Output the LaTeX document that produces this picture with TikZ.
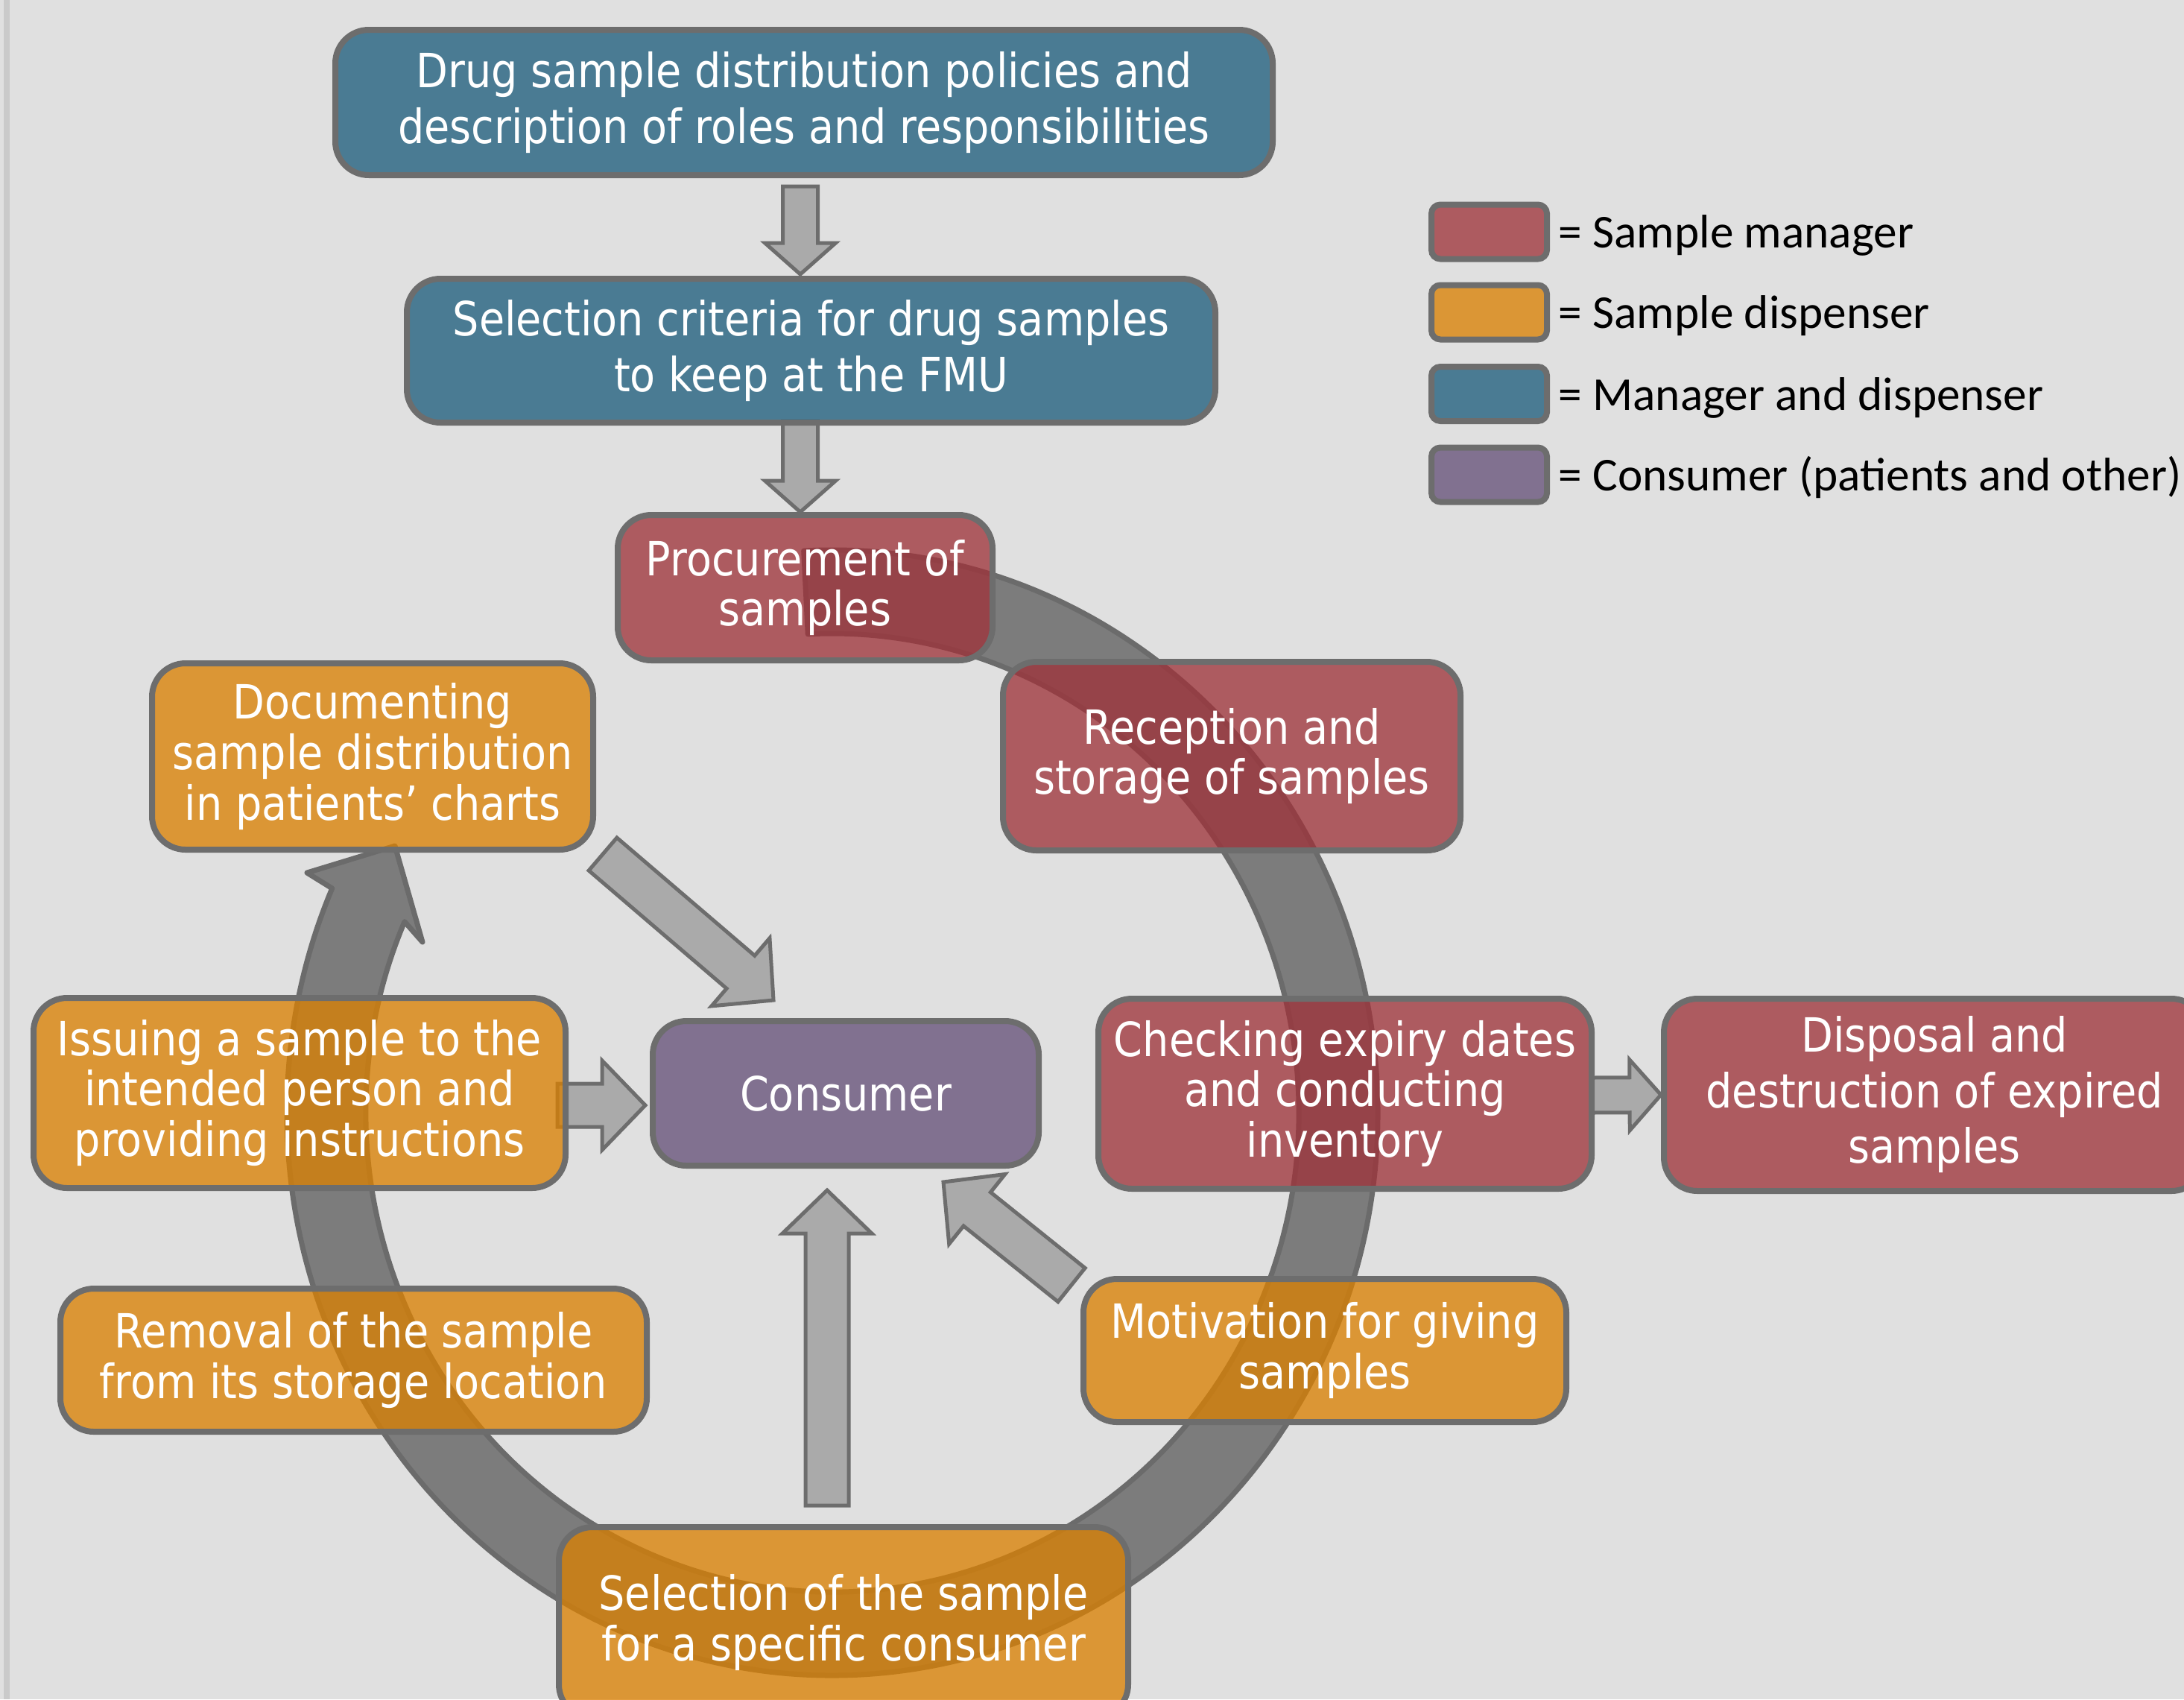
\documentclass[tikz,border=0pt]{standalone}
\usepackage{fontspec}
\usepackage{xcolor}
\usepackage{tikz}
\usetikzlibrary{calc,backgrounds}

\newfontfamily\boxfont[FakeStretch=0.88]{DejaVu Sans}
\newfontfamily\legfont{Carlito}

\definecolor{bggray}{RGB}{224,224,224}
\definecolor{leftline}{RGB}{202,202,202}
\definecolor{edgegray}{RGB}{109,109,109}
\definecolor{ringgray}{RGB}{124,124,124}
\definecolor{ringedge}{RGB}{107,107,107}
\definecolor{arrowgray}{RGB}{170,170,170}
\definecolor{mgrred}{RGB}{158,51,58}
\definecolor{dsporange}{RGB}{218,128,2}
\definecolor{bothblue}{RGB}{29,93,124}
\definecolor{conspurple}{RGB}{101,80,121}

% tail, tip, half shaft, half head, head length
\newcommand{\blockarrow}[5]{%
  \coordinate (ba-t) at (#1);
  \coordinate (ba-p) at (#2);
  \coordinate (ba-h) at ($(ba-p)!#5!(ba-t)$);
  \draw[fatarrow] ($(ba-t)!#3!90:(ba-p)$) -- ($(ba-h)!#3!-90:(ba-t)$) -- ($(ba-h)!#4!-90:(ba-t)$)
    -- (ba-p) -- ($(ba-h)!#4!90:(ba-t)$) -- ($(ba-h)!#3!90:(ba-t)$) -- ($(ba-t)!#3!-90:(ba-p)$) -- cycle;}

\begin{document}
\begin{tikzpicture}[
    stage/.style={draw=edgegray, line width=0.08cm, rounded corners=0.45cm,
      fill opacity=0.77, text opacity=1, text=white, align=center, inner sep=0pt,
      font=\boxfont\fontsize{18}{19.3}\selectfont},
    widelines/.style={font=\boxfont\fontsize{18}{21.2}\selectfont},
    key/.style={draw=edgegray, line width=0.08cm, rounded corners=0.12cm, fill opacity=0.77,
      minimum width=1.55cm, minimum height=0.73cm, inner sep=0pt},
    keytext/.style={anchor=base west, inner sep=0pt, font=\legfont\fontsize{18}{21.6}\selectfont},
    fatarrow/.style={draw=edgegray, fill=arrowgray, line width=0.05cm},
    ring/.style={draw=ringedge, fill=ringgray, line width=0.07cm, line join=round}]
  \useasboundingbox (0,0) rectangle (29.31,-22.80);
  \clip (0,0) rectangle (29.31,-22.80);

  % stages
  \node[stage, widelines, fill=bothblue, minimum width=12.58cm, minimum height=1.95cm] (policy) at (10.79,-1.375)
    {Drug sample distribution policies and\\description of roles and responsibilities};
  \node[stage, widelines, fill=bothblue, minimum width=10.85cm, minimum height=1.93cm] (crit) at (10.885,-4.705)
    {Selection criteria for drug samples\\to keep at the FMU};
  \node[stage, fill=mgrred, minimum width=5.03cm, minimum height=1.95cm] (proc) at (10.805,-7.885)
    {Procurement of\\samples};
  \node[stage, fill=mgrred, minimum width=6.14cm, minimum height=2.53cm] (recep) at (16.53,-10.145)
    {Reception and\\storage of samples};
  \node[stage, fill=dsporange, minimum width=5.92cm, minimum height=2.50cm] (doc) at (5.00,-10.15)
    {Documenting\\sample distribution\\in patients’ charts};
  \node[stage, fill=dsporange, minimum width=7.14cm, minimum height=2.55cm] (issue) at (4.02,-14.665)
    {Issuing a sample to the\\intended person and\\providing instructions};
  \node[stage, fill=conspurple, minimum width=5.18cm, minimum height=1.94cm] (cons) at (11.35,-14.67)
    {Consumer};
  \node[stage, fill=mgrred, minimum width=6.62cm, minimum height=2.55cm] (check) at (18.05,-14.675)
    {Checking expiry dates\\and conducting\\inventory};
  \node[stage, widelines, fill=mgrred, minimum width=7.26cm, minimum height=2.58cm] (disp) at (25.96,-14.69)
    {Disposal and\\destruction of expired\\samples};
  \node[stage, fill=dsporange, minimum width=7.87cm, minimum height=1.92cm] (remov) at (4.745,-18.25)
    {Removal of the sample\\from its storage location};
  \node[stage, fill=dsporange, minimum width=6.48cm, minimum height=1.92cm] (motiv) at (17.78,-18.12)
    {Motivation for giving\\samples};
  \node[stage, fill=dsporange, minimum width=7.64cm, minimum height=2.56cm] (sel) at (11.32,-21.77)
    {Selection of the sample\\for a specific consumer};

  % legend
  \node[key, fill=mgrred] (mgrkey) at (19.985,-3.11) {};
  \node[key, fill=dsporange] (dspkey) at (19.985,-4.19) {};
  \node[key, fill=bothblue] (bothkey) at (19.985,-5.285) {};
  \node[key, fill=conspurple] (conskey) at (19.985,-6.37) {};
  \node[keytext] (mgrtext) at ($(mgrkey.east)+(0.11,-0.215)$) {= Sample manager};
  \node[keytext] (dsptext) at ($(dspkey.east)+(0.11,-0.215)$) {= Sample dispenser};
  \node[keytext] (bothtext) at ($(bothkey.east)+(0.11,-0.215)$) {= Manager and dispenser};
  \node[keytext] (constext) at ($(conskey.east)+(0.11,-0.215)$) {= Consumer (patients and other)};

  \begin{pgfonlayer}{background}
    \fill[bggray] (0,0) rectangle (29.31,-22.80);
    \draw[leftline, line width=0.07cm] (0.09,0) -- (0.09,-22.80);

    % the cycle
    \coordinate (ctr) at (11.17,-14.93);
    \draw[ring] ($(ctr)+(93:7.32 and 7.55)$) arc[start angle=93, end angle=-203.5, x radius=7.32, y radius=7.55]
      -- (4.12,-11.71) -- (5.30,-11.35) -- (5.67,-12.64)
      -- ($(ctr)+(-203.5:6.26 and 6.43)$) arc[start angle=-203.5, end angle=93, x radius=6.26, y radius=6.43]
      -- cycle;

    % block arrows
    \blockarrow{[xshift=-0.05cm,yshift=-0.11cm]policy.south}{[xshift=-0.145cm,yshift=0.02cm]crit.north}{0.235cm}{0.475cm}{0.42cm}
    \blockarrow{[xshift=-0.145cm,yshift=0.06cm]crit.south}{[xshift=-0.065cm]proc.north}{0.235cm}{0.475cm}{0.42cm}
    \blockarrow{[xshift=0.09cm,yshift=-0.02cm]doc.south east}{[xshift=1.66cm,yshift=0.24cm]cons.north west}{0.29cm}{0.60cm}{0.58cm}
    \blockarrow{[xshift=-0.15cm,yshift=-0.165cm]issue.east}{[xshift=-0.06cm,yshift=-0.16cm]cons.west}{0.29cm}{0.60cm}{0.58cm}
    \blockarrow{[xshift=-0.22cm,yshift=0.25cm]sel.north}{[xshift=-0.25cm,yshift=-0.29cm]cons.south}{0.29cm}{0.60cm}{0.58cm}
    \blockarrow{[xshift=-0.12cm,yshift=-0.12cm]motiv.north west}{[xshift=-1.32cm,yshift=-0.18cm]cons.south east}{0.29cm}{0.60cm}{0.58cm}
    \blockarrow{[xshift=-0.05cm,yshift=-0.02cm]check.east}{disp.west}{0.235cm}{0.475cm}{0.42cm}
  \end{pgfonlayer}
\end{tikzpicture}
\end{document}
